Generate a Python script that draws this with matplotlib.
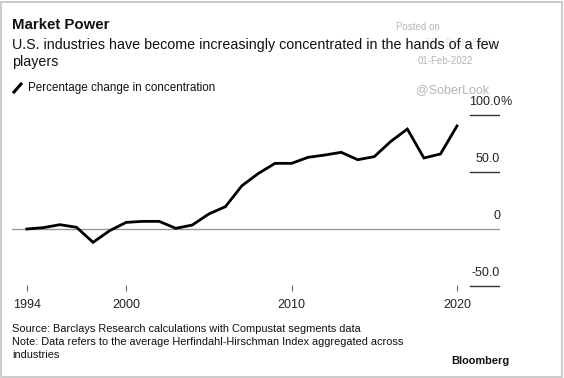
import matplotlib.pyplot as plt
from matplotlib.patches import Rectangle

plt.rcParams['font.family'] = ['Liberation Sans', 'DejaVu Sans']

years = list(range(1994, 2021))
change = [0, 1.2, 3.8, 1.5, -11.7, -1.5, 5.8, 6.7, 6.7, 0.6, 3.5, 13.2, 19.6,
          38, 48.8, 57.6, 57.6, 62.9, 64.9, 67.3, 60.8, 63.5, 76.9, 87.7,
          62.3, 65.8, 90.4]
xticks = [1994, 2000, 2010, 2020]
yticks = [-50, 0, 50, 100]
ylabels = ['-50.0', '0', '50.0', '100.0']

W, H = 564, 378


def px(x, y):
    return x / W, 1 - y / H


fig = plt.figure(figsize=(W / 100, H / 100), dpi=100)
fig.patch.set_facecolor('white')

# axes placed in pixel units: x 12..500, y 100..291
ax = fig.add_axes([12 / W, 1 - 291 / H, (500 - 12) / W, (291 - 100) / H])
ax.set_xlim(1993.1, 2022.6)
ax.set_ylim(-54.4, 113.2)
for s in ax.spines.values():
    s.set_visible(False)

ax.axhline(0, color='#9a9a9a', lw=1.0, zorder=1)
ax.plot(years, change, color='black', lw=2.0, zorder=3, solid_joinstyle='miter')

tick_start = (470 - 12) / 488
for v, lab in zip(yticks, ylabels):
    if v != 0:
        ax.axhline(v, xmin=tick_start, xmax=1.0, color='#333333', lw=1.0)
    ax.annotate(lab, xy=(1.0, v), xycoords=('axes fraction', 'data'),
                xytext=(0, 5), textcoords='offset points',
                ha='right', va='bottom', fontsize=9, color='#222222')
    if v == 100:
        ax.annotate('%', xy=(1.0, v), xycoords=('axes fraction', 'data'),
                    xytext=(0, 5), textcoords='offset points',
                    ha='left', va='bottom', fontsize=9, color='#222222')

ax.set_yticks([])
ax.set_xticks(xticks)
ax.set_xticklabels([str(x) for x in xticks])
ax.tick_params(axis='x', direction='in', length=4, width=0.8, color='#666666',
               pad=6, labelsize=9, labelcolor='#222222')

# header
fig.text(*px(12, 25), 'Market Power', fontsize=10.8, fontweight='bold',
         va='center', ha='left', color='#111111')
fig.text(*px(12, 45), 'U.S. industries have become increasingly concentrated in the hands of a few',
         fontsize=10.3, va='center', ha='left', color='#111111', zorder=5)
fig.text(*px(12, 62), 'players', fontsize=10.3, va='center', ha='left', color='#111111')

# legend
fig.lines.append(plt.Line2D([14 / W, 21 / W], [1 - 92 / H, 1 - 84 / H],
                            transform=fig.transFigure, color='black', lw=2.2))
fig.text(*px(28, 88), 'Percentage change in concentration', fontsize=8.4,
         va='center', ha='left', color='#111111')

# watermark
fig.text(*px(418, 27), 'Posted on', fontsize=7, ha='center', va='center', color='#b5b5b5')
fig.text(*px(459, 43), 'The Daily Shot', fontsize=7.5, ha='center', va='center',
         color='#e6e6e6', zorder=1)
fig.text(*px(445, 61), '01-Feb-2022', fontsize=7, ha='center', va='center', color='#b5b5b5')
fig.text(*px(453, 90), '@SoberLook', fontsize=9, ha='center', va='center', color='#b5b5b5')

# footer
fig.text(*px(12, 329), 'Source: Barclays Research calculations with Compustat segments data',
         fontsize=7.9, va='center', ha='left', color='#111111')
fig.text(*px(12, 342), 'Note: Data refers to the average Herfindahl-Hirschman Index aggregated across',
         fontsize=7.9, va='center', ha='left', color='#111111')
fig.text(*px(12, 355), 'industries', fontsize=7.9, va='center', ha='left', color='#111111')
fig.text(*px(510, 361), 'Bloomberg', fontsize=7.9, fontweight='bold',
         va='center', ha='right', color='#111111')

fig.patches.append(Rectangle((0.5 / W, 1.5 / H), 561 / W, 375 / H,
                             transform=fig.transFigure, fill=False,
                             edgecolor='#c4c4c4', lw=1.2))

fig.savefig('out.png', dpi=100)
